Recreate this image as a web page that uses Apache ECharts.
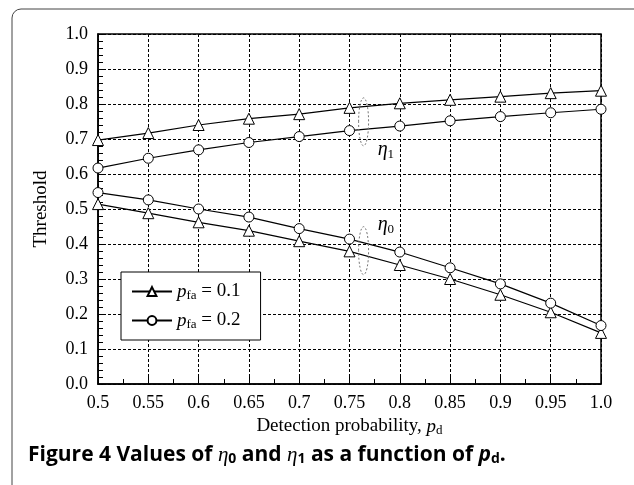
<!DOCTYPE html>
<html>
<head>
<meta charset="utf-8">
<script src="https://cdn.jsdelivr.net/npm/echarts@6/dist/echarts.min.js"></script>
<style>
html, body { margin: 0; padding: 0; background: #fff; }
#main { width: 634px; height: 485px; }
</style>
</head>
<body>
<div id="main"></div>
<script>
// detection probability p_d
const pdValues = [0.5, 0.55, 0.6, 0.65, 0.7, 0.75, 0.8, 0.85, 0.9, 0.95, 1.0];
// eta_1 for p_fa = 0.1 / 0.2
const eta1Pfa01 = [0.697, 0.717, 0.740, 0.758, 0.771, 0.789, 0.802, 0.812, 0.821, 0.831, 0.838];
const eta1Pfa02 = [0.617, 0.645, 0.669, 0.690, 0.707, 0.724, 0.737, 0.752, 0.764, 0.775, 0.785];
// eta_0 for p_fa = 0.1 / 0.2
const eta0Pfa01 = [0.514, 0.488, 0.462, 0.438, 0.408, 0.379, 0.340, 0.300, 0.255, 0.205, 0.146];
const eta0Pfa02 = [0.547, 0.526, 0.500, 0.477, 0.444, 0.414, 0.377, 0.332, 0.286, 0.231, 0.167];
const yTicks = [0, 0.1, 0.2, 0.3, 0.4, 0.5, 0.6, 0.7, 0.8, 0.9, 1.0];

const serif = "'Liberation Serif', 'DejaVu Serif', serif";
const sans = "'Liberation Sans Narrow', 'Open Sans', 'Noto Sans', sans-serif";

const pairs = (ys) => ys.map((y, i) => [pdValues[i], y]);

const lineSeries = (name, symbol, ys) => ({
	name: name,
	type: "line",
	data: pairs(ys),
	symbol: symbol,
	symbolSize: symbol === "triangle" ? 11 : 10,
	showSymbol: true,
	lineStyle: { color: "#000", width: 1.2 },
	itemStyle: { color: "#fff", borderColor: "#000", borderWidth: 1 },
	emphasis: { disabled: true },
	animation: false,
	z: symbol === "triangle" ? 3 : 4,
});

const chart = echarts.init(document.getElementById("main"));

const subRich = {
	i: { fontFamily: serif, fontStyle: "italic", fontSize: 19, color: "#000" },
	s: { fontFamily: serif, fontSize: 13, color: "#000", padding: [8, 0, 0, 0] },
	n: { fontFamily: serif, fontSize: 19, color: "#000" },
};

const option = {
	backgroundColor: "#fff",
	animation: false,
	grid: {
		left: 98,
		right: 33,
		top: 34,
		bottom: 101,
		show: true,
		borderColor: "#000",
		borderWidth: 1.5,
	},
	xAxis: {
		type: "value",
		min: 0.5,
		max: 1.0,
		interval: 0.05,
		name: "{n|Detection probability, }{i|p}{s|d}",
		nameLocation: "middle",
		nameGap: 32,
		nameTextStyle: { rich: subRich },
		axisLine: { show: true, lineStyle: { color: "#000", width: 1.5 } },
		axisTick: { show: true, inside: true, length: 7, lineStyle: { color: "#000" } },
		minorTick: { show: true, splitNumber: 2, length: 5, lineStyle: { color: "#000" } },
		splitLine: { show: true, lineStyle: { color: "#000", type: [3, 2], width: 1 } },
		axisLabel: {
			color: "#000",
			fontFamily: serif,
			fontSize: 18,
			margin: 10,
			formatter: (v) => (Math.abs(v - 1) < 1e-9 ? "1.0" : String(+v.toFixed(2))),
		},
	},
	yAxis: {
		type: "value",
		min: 0,
		max: 1,
		interval: 0.1,
		name: "Threshold",
		nameLocation: "middle",
		nameGap: 47,
		nameTextStyle: { color: "#000", fontFamily: serif, fontSize: 19 },
		axisLine: { show: true, lineStyle: { color: "#000", width: 1.5 } },
		axisTick: { show: true, inside: true, length: 7, lineStyle: { color: "#000" } },
		minorTick: { show: true, splitNumber: 5, length: 5, lineStyle: { color: "#000" } },
		splitLine: { show: true, lineStyle: { color: "#000", type: [3, 2], width: 1 } },
		axisLabel: {
			color: "#000",
			fontFamily: serif,
			fontSize: 18,
			margin: 10,
			formatter: (v) => {
				const t = yTicks.find((k) => Math.abs(k - v) < 1e-9);
				return (t === undefined ? v : t).toFixed(1);
			},
		},
	},
	legend: {
		orient: "vertical",
		left: 121,
		top: 272,
		data: ["pfa01", "pfa02"],
		backgroundColor: "#fff",
		borderColor: "#000",
		borderWidth: 1,
		borderRadius: 0,
		padding: [10, 20, 9, 10],
		itemGap: 9,
		itemWidth: 40,
		itemHeight: 11,
		formatter: (name) =>
			name === "pfa01" ? "{i|p}{s|fa}{n| = 0.1}" : "{i|p}{s|fa}{n| = 0.2}",
		textStyle: { rich: subRich },
	},
	series: [
		lineSeries("pfa01", "triangle", eta1Pfa01),
		lineSeries("pfa02", "circle", eta1Pfa02),
		lineSeries("pfa01", "triangle", eta0Pfa01),
		lineSeries("pfa02", "circle", eta0Pfa02),
	],
};

chart.setOption(option);

// annotations: dashed ellipses grouping the eta curves, with labels
function annotate() {
	const c1 = chart.convertToPixel({ gridIndex: 0 }, [0.764, 0.749]);
	const c0 = chart.convertToPixel({ gridIndex: 0 }, [0.764, 0.381]);
	const l1 = chart.convertToPixel({ gridIndex: 0 }, [0.778, 0.668]);
	const l0 = chart.convertToPixel({ gridIndex: 0 }, [0.778, 0.455]);
	const etaRich = {
		e: { fontFamily: serif, fontStyle: "italic", fontSize: 20, color: "#000" },
		s: { fontFamily: serif, fontSize: 13, color: "#000", padding: [9, 0, 0, 0] },
	};
	chart.setOption({
		graphic: [
			{
				type: "rect",
				shape: { x: 12, y: 9, width: 700, height: 600, r: 9 },
				style: { fill: "none", stroke: "#444", lineWidth: 1 },
				silent: true,
				z: -10,
			},
			{
				type: "ellipse",
				shape: { cx: c1[0], cy: c1[1], rx: 5, ry: 24 },
				style: { fill: "none", stroke: "#777", lineWidth: 1, lineDash: [2, 2] },
				z: 100,
			},
			{
				type: "ellipse",
				shape: { cx: c0[0], cy: c0[1], rx: 5, ry: 24 },
				style: { fill: "none", stroke: "#777", lineWidth: 1, lineDash: [2, 2] },
				z: 100,
			},
			{
				type: "text",
				x: l1[0],
				y: l1[1],
				style: { text: "{e|η}{s|1}", rich: etaRich, verticalAlign: "middle" },
				z: 100,
			},
			{
				type: "text",
				x: l0[0],
				y: l0[1],
				style: { text: "{e|η}{s|0}", rich: etaRich, verticalAlign: "middle" },
				z: 100,
			},
			{
				type: "text",
				left: 28,
				top: 445,
				style: {
					text: "{b|Figure 4 Values of }{e|η}{s|0}{b| and }{e|η}{s|1}{b| as a function of }{p|p}{s|d}{b|.}",
					rich: {
						b: { fontFamily: sans, fontWeight: "bold", fontSize: 21, color: "#000" },
						e: { fontFamily: serif, fontStyle: "italic", fontSize: 21, color: "#000" },
						p: { fontFamily: sans, fontStyle: "italic", fontWeight: "bold", fontSize: 21, color: "#000" },
						s: { fontFamily: sans, fontWeight: "bold", fontSize: 14, color: "#000", padding: [8, 0, 0, 0] },
					},
				},
			},
		],
	});
}
annotate();
</script>
</body>
</html>
